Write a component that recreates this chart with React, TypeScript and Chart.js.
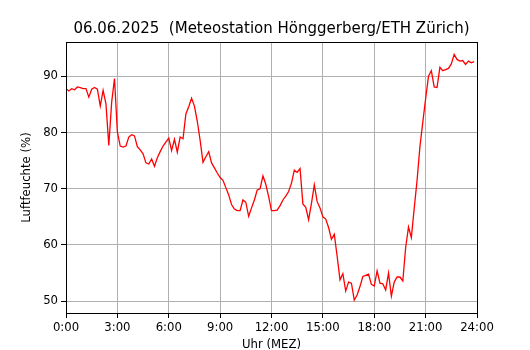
import React, { useEffect, useRef } from "react";
import { Chart, registerables } from "chart.js";

Chart.register(...registerables);

const TITLE = "06.06.2025  (Meteostation Hönggerberg/ETH Zürich)";
const X_LABEL = "Uhr (MEZ)";
const Y_LABEL = "Luftfeuchte (%)";

// relative humidity every 10 minutes, 0:00 .. 23:50
const humidity: number[] = [
  87.8, 87.4, 87.8, 87.6, 88.1, 88.0, 87.8, 87.8, 86.3, 87.7, 88.0, 87.7,
  84.7, 87.5, 85.1, 77.7, 85.4, 89.6, 80.1, 77.6, 77.4, 77.6, 79.2, 79.6,
  79.4, 77.5, 76.9, 76.2, 74.6, 74.4, 75.3, 74.0, 75.5, 76.6, 77.6, 78.3,
  79.0, 76.8, 78.8, 76.5, 79.2, 78.9, 83.3, 84.6, 86.1, 84.7, 82.0, 78.6,
  74.7, 75.7, 76.6, 74.6, 73.7, 72.8, 72.0, 71.5, 70.2, 68.9, 67.2, 66.4,
  66.1, 66.1, 68.0, 67.6, 65.1, 66.6, 68.0, 69.8, 70.0, 72.3, 70.8, 68.6,
  66.1, 66.1, 66.2, 67.0, 68.0, 68.7, 69.5, 71.0, 73.3, 72.9, 73.6, 67.3,
  66.7, 64.5, 67.4, 70.7, 67.7, 66.6, 65.0, 64.6, 63.1, 61.0, 61.9, 58.0,
  53.8, 54.9, 51.8, 53.4, 53.2, 50.2, 51.1, 52.6, 54.4, 54.6, 54.8, 53.0,
  52.7, 55.4, 53.2, 53.1, 52.0, 55.0, 50.9, 53.4, 54.3, 54.3, 53.6, 59.5,
  63.2, 61.3, 66.5, 71.5, 77.5, 81.8, 86.0, 90.0, 91.0, 88.1, 88.0, 91.6,
  91.0, 91.2, 91.4, 92.2, 93.9, 93.0, 92.7, 92.8, 92.1, 92.7, 92.4, 92.6,
];

const X_TICKS: number[] = [0, 3, 6, 9, 12, 15, 18, 21, 24];
const Y_TICKS: number[] = [50, 60, 70, 80, 90];

export default function App() {
  const ref = useRef<HTMLCanvasElement | null>(null);

  useEffect(() => {
    if (!ref.current) return;
    const points = humidity.map((v, i) => ({ x: i / 6, y: v }));
    const family = "'DejaVu Sans', sans-serif";
    const font = { family, size: 11.7 };
    const chart = new Chart(ref.current, {
      type: "line",
      data: {
        datasets: [
          {
            data: points,
            borderColor: "#ff0000",
            borderWidth: 1.3,
            pointRadius: 0,
            tension: 0,
            fill: false,
          },
        ],
      },
      options: {
        animation: false,
        responsive: false,
        layout: { padding: { left: 0, right: 53, top: 42, bottom: 0 } },
        plugins: {
          legend: { display: false },
          tooltip: { enabled: false },
          title: { display: false },
        },
        scales: {
          x: {
            type: "linear",
            min: 0,
            max: 24,
            afterBuildTicks: (s: any) => {
              s.ticks = X_TICKS.map((v) => ({ value: v }));
            },
            afterFit: (s: any) => {
              s.height = 37;
            },
            ticks: {
              color: "#000",
              font,
              padding: 3,
              maxRotation: 0,
              callback: (v: any) => `${v}:00`,
            },
            grid: {
              color: "#b0b0b0",
              lineWidth: 1,
              tickColor: "#000",
              tickLength: 5,
            },
            border: { color: "#000", width: 1 },
            title: {
              display: true,
              text: X_LABEL,
              color: "#000",
              font: { family, size: 11.7, lineHeight: 0.8 },
              padding: { top: 0, bottom: 0 },
            },
          },
          y: {
            type: "linear",
            min: 47.9,
            max: 96.1,
            afterBuildTicks: (s: any) => {
              s.ticks = Y_TICKS.map((v) => ({ value: v }));
            },
            afterFit: (s: any) => {
              s.width = 66;
            },
            ticks: { color: "#000", font, padding: 3 },
            grid: {
              color: "#b0b0b0",
              lineWidth: 1,
              tickColor: "#000",
              tickLength: 5,
            },
            border: { color: "#000", width: 1 },
            title: {
              display: true,
              text: Y_LABEL,
              color: "#000",
              font,
              padding: { top: 20, bottom: 0 },
            },
          },
        },
      },
      plugins: [
        {
          id: "frameAndTitle",
          afterDatasetsDraw(c: any) {
            const { left, right, top, bottom } = c.chartArea;
            const ctx = c.ctx;
            ctx.save();
            ctx.strokeStyle = "#000";
            ctx.lineWidth = 1;
            ctx.strokeRect(left + 0.5, top + 0.5, right - left, bottom - top);
            ctx.fillStyle = "#000";
            ctx.font = `15px ${family}`;
            ctx.textAlign = "center";
            ctx.textBaseline = "middle";
            ctx.fillText(TITLE, (left + right) / 2, 29);
            ctx.restore();
          },
        },
      ],
    });
    return () => chart.destroy();
  }, []);

  return (
    <div style={{ position: "fixed", left: 0, top: 0, width: 530, height: 350, background: "#fff" }}>
      <canvas ref={ref} width={530} height={350} />
    </div>
  );
}
